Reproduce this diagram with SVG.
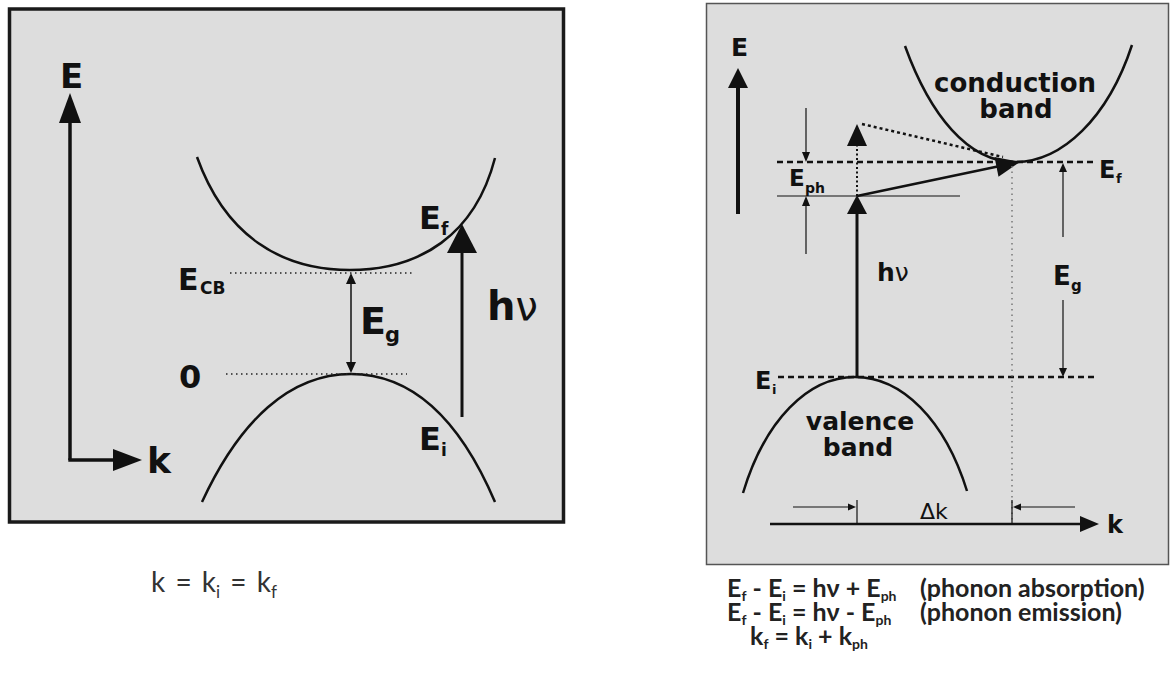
<svg xmlns="http://www.w3.org/2000/svg" width="1173" height="674" viewBox="0 0 1173 674">
<style>
.lbl{font-family:"DejaVu Sans","Liberation Sans",sans-serif;font-weight:bold;fill:#111}
.nu{font-family:"DejaVu Sans","Liberation Sans",sans-serif;font-weight:normal;fill:#111}
.eq{font-family:Lato,"Liberation Sans",sans-serif;font-weight:bold;fill:#222}
.band{fill:none;stroke:#111;stroke-width:2.5}
.dot{stroke:#222;stroke-width:1.3;stroke-dasharray:1.5 3.5;fill:none}
.dash{stroke:#111;stroke-width:2.5;stroke-dasharray:6 4;fill:none}
.thin{stroke:#111;stroke-width:1.2;fill:none}
.head{fill:#111;stroke:none}
</style>
<rect width="1173" height="674" fill="#ffffff"/>
<g id="panel-left">
<rect x="9.5" y="9" width="554" height="513" fill="#dddddd" stroke="#1a1a1a" stroke-width="3.5"/>
</g>
<g id="panel-right">
<rect x="706.5" y="3.5" width="462" height="561" fill="#dddddd" stroke="#555" stroke-width="1.5"/>
</g>
<g id="left-bands">
<path class="band" d="M197,157 C225,235 280,270 350,270 C420,270 475,235 495,158"/>
<path class="band" d="M202,502 C240,420 290,374 351,374 C412,374 460,420 495,502"/>
</g>
<g id="left-connectors">
<line x1="70" y1="460" x2="70" y2="118" stroke="#111" stroke-width="3.5"/>
<polygon class="head" points="70,93 59,123 81,123"/>
<line x1="68.3" y1="460" x2="118" y2="460" stroke="#111" stroke-width="3.5"/>
<polygon class="head" points="142,460 113,449 113,471"/>
<line class="dot" x1="230" y1="273" x2="413" y2="273"/>
<line class="dot" x1="226" y1="374" x2="407" y2="374"/>
<line x1="351" y1="282" x2="351" y2="364" stroke="#111" stroke-width="1.5"/>
<polygon class="head" points="351,273 346,284 356,284"/>
<polygon class="head" points="351,373 346,362 356,362"/>
<line x1="462" y1="417" x2="462" y2="250" stroke="#111" stroke-width="3"/>
<polygon class="head" points="462,224 447,253 477,253"/>
</g>
<g id="left-labels">
<text class="lbl" x="60" y="88" font-size="34">E</text>
<text class="lbl" x="147" y="473" font-size="36">k</text>
<text class="lbl" x="178" y="290" font-size="30">E</text>
<text class="lbl" x="200" y="294" font-size="17">CB</text>
<text class="lbl" x="179" y="388" font-size="32">0</text>
<text class="lbl" x="360" y="334" font-size="38">E</text>
<text class="lbl" x="385" y="342" font-size="21">g</text>
<text class="lbl" x="419" y="229" font-size="32">E</text>
<text class="lbl" x="441" y="235" font-size="17">f</text>
<text class="lbl" x="419" y="450" font-size="32">E</text>
<text class="lbl" x="441" y="456" font-size="17">i</text>
<text x="487" y="320" font-size="40"><tspan class="lbl">h</tspan><tspan class="nu">ν</tspan></text>
</g>
<g id="right-bands">
<path class="band" d="M905,46 C930,115 968,162 1015,162 C1062,162 1108,118 1132,45"/>
<path class="band" d="M743,493 C765,420 808,377 855,377 C902,377 945,420 967,491"/>
</g>
<g id="right-connectors">
<line x1="738" y1="214" x2="738" y2="85" stroke="#111" stroke-width="4"/>
<polygon class="head" points="738,68 728,88 748,88"/>
<line class="dash" x1="777" y1="162" x2="1097" y2="162"/>
<line class="dash" x1="778" y1="377" x2="1097" y2="377"/>
<line class="thin" x1="777" y1="196" x2="960" y2="196"/>
<line class="thin" x1="806" y1="108" x2="806" y2="153"/>
<polygon class="head" points="806,162 802,152 810,152"/>
<line class="thin" x1="806" y1="254" x2="806" y2="205"/>
<polygon class="head" points="806,196 802,206 810,206"/>
<line x1="857" y1="377" x2="857" y2="210" stroke="#111" stroke-width="3"/>
<polygon class="head" points="857,195 847,214 867,214"/>
<line x1="857" y1="196" x2="857" y2="145" stroke="#111" stroke-width="2" stroke-dasharray="2 2.5"/>
<polygon class="head" points="857,124 847,146 867,146"/>
<line x1="862" y1="124" x2="1003" y2="157" stroke="#111" stroke-width="2.5" stroke-dasharray="3 3"/>
<line x1="857" y1="196" x2="1000" y2="166" stroke="#111" stroke-width="2.5"/>
<polygon class="head" points="1020,162 998.5,176.7 994.5,157.1"/>
<line x1="1063" y1="170" x2="1063" y2="237" class="thin"/>
<polygon class="head" points="1063,163 1059,172 1067,172"/>
<line x1="1063" y1="300" x2="1063" y2="369" class="thin"/>
<polygon class="head" points="1063,377 1059,368 1067,368"/>
<line x1="1012" y1="166" x2="1012" y2="522" stroke="#777" stroke-width="1.5" stroke-dasharray="1.5 4"/>
<line x1="770" y1="524" x2="1082" y2="524" stroke="#111" stroke-width="2.5"/>
<polygon class="head" points="1099,524 1080,516 1080,532"/>
<line class="thin" x1="857" y1="500" x2="857" y2="524"/>
<line class="thin" x1="1012" y1="500" x2="1012" y2="524"/>
<line class="thin" x1="793" y1="507" x2="849" y2="507"/>
<polygon class="head" points="856,507 848,503.5 848,510.5"/>
<line class="thin" x1="1075" y1="507" x2="1021" y2="507"/>
<polygon class="head" points="1013,507 1021,503.5 1021,510.5"/>
</g>
<g id="right-labels">
<text class="lbl" x="731" y="56" font-size="25">E</text>
<text class="lbl" x="1015" y="92" font-size="26" text-anchor="middle">conduction</text>
<text class="lbl" x="1016" y="118" font-size="26" text-anchor="middle">band</text>
<text class="lbl" x="1099" y="178" font-size="24">E</text>
<text class="lbl" x="1116" y="183" font-size="13">f</text>
<text class="lbl" x="789" y="186" font-size="23">E</text>
<text class="lbl" x="805" y="193" font-size="14">ph</text>
<text x="877" y="281" font-size="25"><tspan class="lbl">h</tspan><tspan class="nu">ν</tspan></text>
<text class="lbl" x="1053" y="285" font-size="26">E</text>
<text class="lbl" x="1071" y="291" font-size="15">g</text>
<text class="lbl" x="755" y="389" font-size="24">E</text>
<text class="lbl" x="772" y="394" font-size="13">i</text>
<text class="lbl" x="860" y="430" font-size="25" text-anchor="middle">valence</text>
<text class="lbl" x="858" y="456" font-size="25" text-anchor="middle">band</text>
<text class="lbl" x="1107" y="533" font-size="24">k</text>
<text class="nu" x="920" y="519" font-size="22">Δk</text>
</g>
<g id="captions">
<text x="151" y="592" font-family="Lato,'Liberation Sans',sans-serif" font-size="28" word-spacing="3" fill="#333">k = k<tspan dy="6" font-size="17">i</tspan><tspan dy="-6"> = k</tspan><tspan dy="6" font-size="17">f</tspan></text>
<text class="eq" x="727" y="597" font-size="25">E<tspan dy="4" font-size="14">f</tspan><tspan dy="-4"> - E</tspan><tspan dy="4" font-size="14">i</tspan><tspan dy="-4"> = hν + E</tspan><tspan dy="4" font-size="14">ph</tspan></text>
<text class="eq" x="920" y="597" font-size="25">(phonon absorption)</text>
<text class="eq" x="727" y="621" font-size="25">E<tspan dy="4" font-size="14">f</tspan><tspan dy="-4"> - E</tspan><tspan dy="4" font-size="14">i</tspan><tspan dy="-4"> = hν - E</tspan><tspan dy="4" font-size="14">ph</tspan></text>
<text class="eq" x="920" y="621" font-size="25">(phonon emission)</text>
<text class="eq" x="750" y="645" font-size="25">k<tspan dy="4" font-size="14">f</tspan><tspan dy="-4">  = k</tspan><tspan dy="4" font-size="14">i</tspan><tspan dy="-4"> + k</tspan><tspan dy="4" font-size="14">ph</tspan></text>
</g>
</svg>
